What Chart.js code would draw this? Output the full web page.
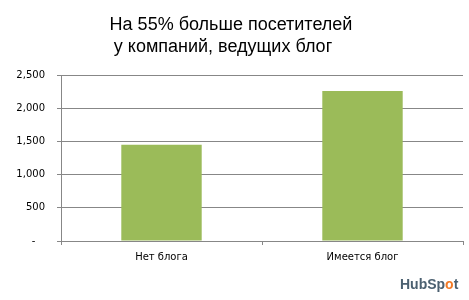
<!DOCTYPE html>
<html>
<head>
<meta charset="utf-8">
<script src="https://cdn.jsdelivr.net/npm/chart.js@4"></script>
<style>
    html, body { margin: 0; padding: 0; background: #fff; }
    #wrap { width: 469px; height: 300px; }
</style>
</head>
<body>
<div id="wrap"><canvas id="blogChart" width="469" height="300"></canvas></div>
<script>
// Chart data
const categories = ['Нет блога', 'Имеется блог'];
const visitors = [1450, 2260];
const yTicks = [0, 500, 1000, 1500, 2000, 2500];
const titleLines = ['На 55% больше посетителей', 'у компаний, ведущих блог'];

const gridColor = '#878787';

// Title and logo drawn by hand
const decorPlugin = {
    id: 'decor',
    afterDraw(chart) {
        const ctx = chart.ctx;
        ctx.save();
        ctx.fillStyle = '#000';
        ctx.font = '18px "Liberation Sans", Arial, sans-serif';
        ctx.textAlign = 'center';
        ctx.textBaseline = 'alphabetic';
        ctx.fillText(titleLines[0], 231, 30);
        ctx.fillText(titleLines[1], 223, 52);

        // HubSpot logo text
        ctx.font = 'bold 14px "Liberation Sans", Arial, sans-serif';
        ctx.textAlign = 'left';
        let x = 400;
        const parts = [['HubSp', '#4b6070'], ['o', '#f27a26'], ['t', '#4b6070']];
        parts.forEach(p => {
            ctx.fillStyle = p[1];
            ctx.fillText(p[0], x, 289);
            x += ctx.measureText(p[0]).width;
        });
        ctx.restore();
    }
};

const ctx = document.getElementById('blogChart').getContext('2d');
new Chart(ctx, {
    type: 'bar',
    data: {
        labels: categories,
        datasets: [{
            data: visitors,
            backgroundColor: '#9bbb59',
            borderWidth: 0,
            barPercentage: 0.4,
            categoryPercentage: 1.0
        }]
    },
    options: {
        responsive: false,
        animation: false,
        layout: { padding: { top: 75, right: 6, left: 0, bottom: 0 } },
        plugins: {
            legend: { display: false },
            title: { display: false },
            tooltip: { enabled: false }
        },
        scales: {
            x: {
                offset: true,
                grid: {
                    offset: true,
                    drawOnChartArea: false,
                    color: gridColor,
                    tickLength: 4
                },
                border: { color: gridColor },
                ticks: {
                    color: '#000',
                    font: { family: '"DejaVu Sans", sans-serif', size: 10 },
                    padding: 6
                },
                afterFit(scale) { scale.height = 59; }
            },
            y: {
                min: yTicks[0],
                max: yTicks[yTicks.length - 1],
                afterBuildTicks(scale) {
                    scale.ticks = yTicks.map(v => ({ value: v }));
                },
                grid: {
                    color: gridColor,
                    tickLength: 4
                },
                border: { color: gridColor },
                ticks: {
                    color: '#000',
                    font: { family: '"DejaVu Sans", sans-serif', size: 10 },
                    padding: 12,
                    callback: v => v === 0 ? '-   ' : v.toLocaleString('en-US')
                },
                afterFit(scale) { scale.width = 61; }
            }
        }
    },
    plugins: [decorPlugin]
});
</script>
</body>
</html>
